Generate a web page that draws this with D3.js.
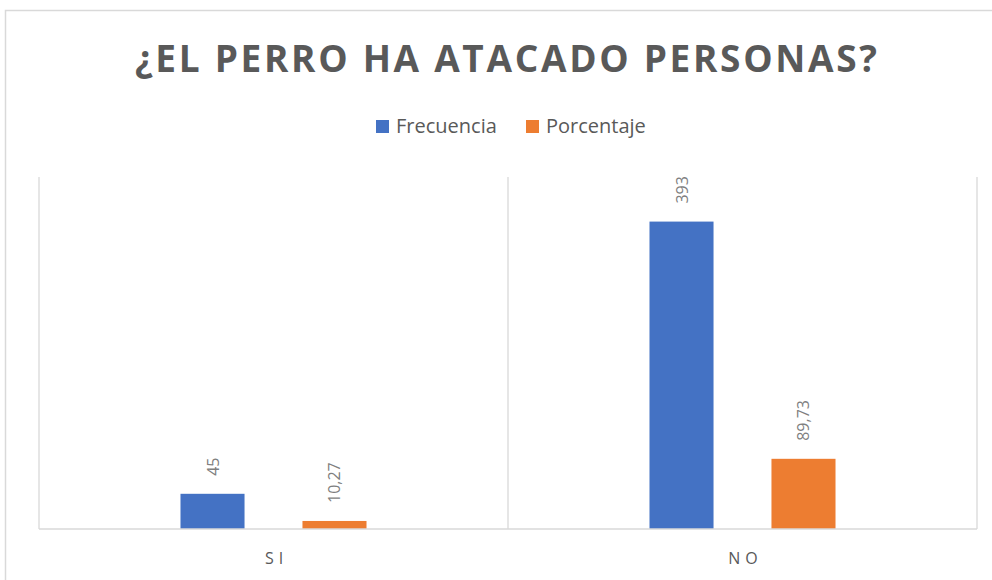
<!DOCTYPE html>
<html>
<head>
<meta charset="utf-8">
<script src="https://cdn.jsdelivr.net/npm/d3@7"></script>
<style>
  body { margin: 0; background: #fff; }
  text { font-family: "Open Sans", "Liberation Sans", sans-serif; }
</style>
</head>
<body>
<svg id="chart" width="992" height="580"></svg>
<script>
// data
var categories = ["SI", "NO"];
var series = ["Frecuencia", "Porcentaje"];
var frecuencia = [45, 393];
var porcentaje = [10.27, 89.73];
var labels = [["45", "10,27"], ["393", "89,73"]];
var colors = ["#4472c4", "#ed7d31"];

var W = 992, H = 580;
var svg = d3.select("#chart");

// chart frame
svg.append("rect")
    .attr("x", 5.5).attr("y", 10.5)
    .attr("width", 1000).attr("height", 600)
    .style("fill", "#fff")
    .style("stroke", "#d9d9d9")
    .style("stroke-width", 1.5);

var plot = { left: 39, right: 977, top: 177, bottom: 529 };

var x0 = d3.scaleBand().domain(categories).range([plot.left, plot.right]);
var x1 = d3.scaleBand().domain(series).range([0, x0.bandwidth()])
    .paddingInner(0.475).paddingOuter(1.16);
var y = d3.scaleLinear().domain([0, 450]).range([plot.bottom, plot.top]);

// category separators
var seps = [plot.left].concat(categories.map(function(c) { return x0(c) + x0.bandwidth(); }));
svg.selectAll("line.sep")
    .data(seps)
    .enter().append("line")
    .attr("class", "sep")
    .attr("x1", function(d) { return d; })
    .attr("x2", function(d) { return d; })
    .attr("y1", plot.top).attr("y2", plot.bottom)
    .style("stroke", "#d9d9d9").style("stroke-width", 1.3);

var rows = categories.map(function(c, i) {
    return { cat: c, vals: [frecuencia[i], porcentaje[i]], labs: labels[i] };
});

var g = svg.selectAll("g.cat")
    .data(rows)
    .enter().append("g")
    .attr("class", "cat")
    .attr("transform", function(d) { return "translate(" + x0(d.cat) + ",0)"; });

var bars = g.selectAll("g.bar")
    .data(function(d) {
        return series.map(function(s, j) { return { s: s, v: d.vals[j], lab: d.labs[j], c: colors[j] }; });
    })
    .enter().append("g").attr("class", "bar");

bars.append("rect")
    .attr("x", function(d) { return x1(d.s); })
    .attr("y", function(d) { return y(d.v); })
    .attr("width", x1.bandwidth())
    .attr("height", function(d) { return plot.bottom - y(d.v); })
    .style("fill", function(d) { return d.c; });

bars.append("text")
    .attr("transform", function(d) {
        return "translate(" + (x1(d.s) + x1.bandwidth() / 2 + 6) + "," + (y(d.v) - 18) + ") rotate(-90)";
    })
    .attr("text-anchor", "start")
    .style("font-size", "16px")
    .style("fill", "#7f7f7f")
    .text(function(d) { return d.lab; });

// baseline
svg.append("line")
    .attr("x1", plot.left).attr("x2", plot.right)
    .attr("y1", plot.bottom).attr("y2", plot.bottom)
    .style("stroke", "#d9d9d9").style("stroke-width", 1.5);

// category labels
svg.selectAll("text.cat")
    .data(categories)
    .enter().append("text")
    .attr("class", "cat")
    .attr("x", function(d) { return x0(d) + x0.bandwidth() / 2 + 3; })
    .attr("y", 564)
    .attr("text-anchor", "middle")
    .style("font-size", "16px")
    .style("letter-spacing", "5px")
    .style("fill", "#595959")
    .text(function(d) { return d; });

// title
svg.append("text")
    .attr("x", 506).attr("y", 72)
    .attr("text-anchor", "middle")
    .attr("textLength", 742)
    .attr("lengthAdjust", "spacing")
    .style("font-size", "37px")
    .style("font-weight", "bold")
    .style("fill", "#595959")
    .text("¿EL PERRO HA ATACADO PERSONAS?");

// legend
var legX = [376, 526];
var leg = svg.selectAll("g.leg")
    .data(series)
    .enter().append("g")
    .attr("class", "leg")
    .attr("transform", function(d, i) { return "translate(" + legX[i] + ",120)"; });
leg.append("rect")
    .attr("width", 13).attr("height", 13)
    .style("fill", function(d, i) { return colors[i]; });
leg.append("text")
    .attr("x", 20).attr("y", 13)
    .style("font-size", "20px")
    .style("fill", "#595959")
    .text(function(d) { return d; });
</script>
</body>
</html>
